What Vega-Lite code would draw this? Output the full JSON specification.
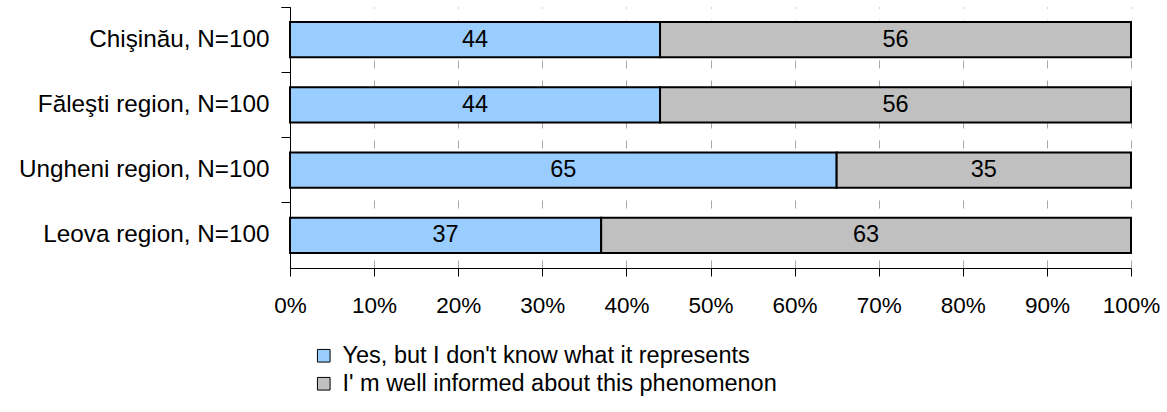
{
  "$schema": "https://vega.github.io/schema/vega-lite/v6.json",
  "width": 841,
  "height": 261,
  "autosize": {"type": "none"},
  "padding": {"left": 290, "top": 7, "right": 36, "bottom": 144},
  "background": "white",
  "config": {
    "font": "Liberation Sans",
    "view": {"stroke": null}
  },
  "data": {
    "values": [
      {"region": "Chişinău, N=100", "answer": "Yes, but I don't know what it represents", "value": 44, "ord": 1},
      {"region": "Chişinău, N=100", "answer": "I' m well informed about this phenomenon", "value": 56, "ord": 2},
      {"region": "Făleşti region, N=100", "answer": "Yes, but I don't know what it represents", "value": 44, "ord": 1},
      {"region": "Făleşti region, N=100", "answer": "I' m well informed about this phenomenon", "value": 56, "ord": 2},
      {"region": "Ungheni region, N=100", "answer": "Yes, but I don't know what it represents", "value": 65, "ord": 1},
      {"region": "Ungheni region, N=100", "answer": "I' m well informed about this phenomenon", "value": 35, "ord": 2},
      {"region": "Leova region, N=100", "answer": "Yes, but I don't know what it represents", "value": 37, "ord": 1},
      {"region": "Leova region, N=100", "answer": "I' m well informed about this phenomenon", "value": 63, "ord": 2}
    ]
  },
  "transform": [
    {"stack": "value", "groupby": ["region"], "sort": [{"field": "ord"}], "as": ["v0", "v1"]},
    {"calculate": "(datum.v0 + datum.v1) / 2", "as": "mid"}
  ],
  "encoding": {
    "y": {
      "field": "region",
      "type": "nominal",
      "sort": ["Chişinău, N=100", "Făleşti region, N=100", "Ungheni region, N=100", "Leova region, N=100"],
      "scale": {"paddingInner": 0, "paddingOuter": 0},
      "axis": {
        "title": null,
        "bandPosition": 0,
        "tickExtra": true,
        "labelFontSize": 24.3,
        "labelLimit": 0,
        "labelColor": "#000000",
        "labelPadding": 12,
        "tickSize": 9,
        "tickColor": "#000000",
        "domainColor": "#000000",
        "domainWidth": 1,
        "grid": false
      }
    }
  },
  "layer": [
    {
      "mark": {"type": "bar", "height": {"band": 0.54}, "stroke": "#000000", "strokeWidth": 2},
      "encoding": {
        "x": {
          "field": "v0",
          "type": "quantitative",
          "scale": {"domain": [0, 100], "nice": false},
          "axis": {
            "title": null,
            "values": [0, 10, 20, 30, 40, 50, 60, 70, 80, 90, 100],
            "labelExpr": "datum.value + '%'",
            "labelFontSize": 22.5,
            "labelFlush": false,
            "labelColor": "#000000",
            "labelPadding": 18,
            "tickSize": 8,
            "tickColor": "#000000",
            "domainColor": "#000000",
            "grid": true,
            "gridColor": "#a8a8a8",
            "gridDash": [8, 12],
            "gridWidth": 1
          }
        },
        "x2": {"field": "v1"},
        "color": {
          "field": "answer",
          "type": "nominal",
          "scale": {
            "domain": ["Yes, but I don't know what it represents", "I' m well informed about this phenomenon"],
            "range": ["#99CCFF", "#C0C0C0"]
          },
          "legend": {
            "title": null,
            "orient": "none",
            "legendX": 22,
            "legendY": 337,
            "direction": "vertical",
            "symbolType": "square",
            "symbolSize": 160,
            "symbolStrokeColor": "#000000",
            "symbolStrokeWidth": 1,
            "labelFontSize": 23.5,
            "labelLimit": 0,
            "labelColor": "#000000",
            "labelOffset": 7,
            "rowPadding": 3
          }
        }
      }
    },
    {
      "mark": {"type": "text", "fontSize": 23.5, "color": "#000000"},
      "encoding": {
        "x": {"field": "mid", "type": "quantitative"},
        "text": {"field": "value", "type": "quantitative"}
      }
    }
  ]
}
